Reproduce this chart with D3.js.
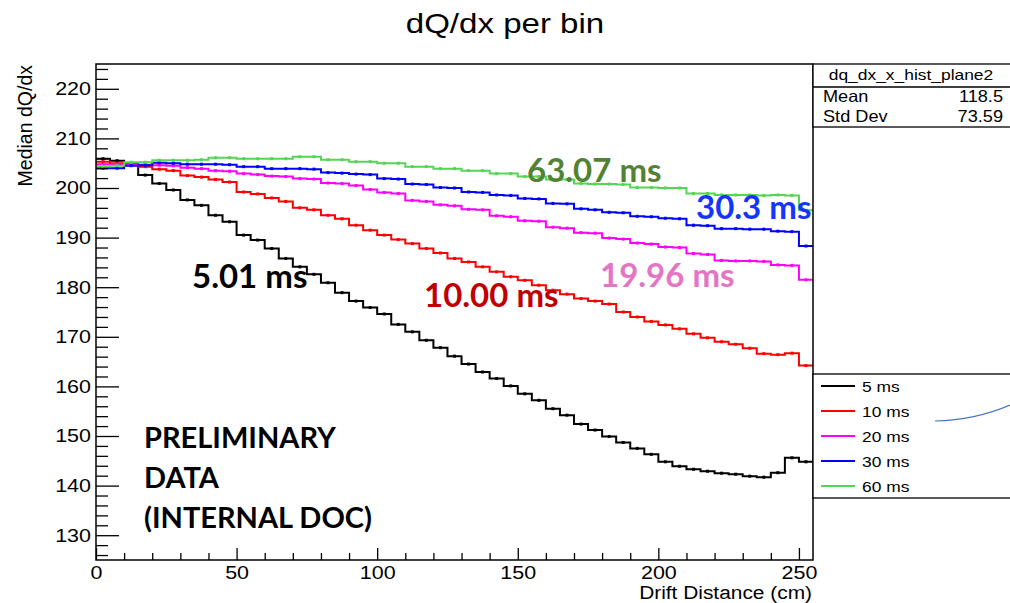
<!DOCTYPE html>
<html><head><meta charset="utf-8">
<script src="https://cdn.jsdelivr.net/npm/d3@7"></script>
<style>body{margin:0;background:#fff;} svg{display:block;}</style>
</head><body>
<svg id="c" width="1010" height="603"></svg>
<script>
// ---- data ----
const binWidth = 5;
const xDomain = [0, 255];
const yDomain = [125, 225];
const seriesNames = ["5 ms", "10 ms", "20 ms", "30 ms", "60 ms"];
const seriesColors = ["#000000", "#ff0000", "#ff00ff", "#0000ff", "#55d555"];
const v5ms = [205.9,205.5,204.9,202.6,200.9,199.6,197.6,196.5,194.5,193.2,190.5,189.5,187.8,185.8,184.1,182.6,180.9,178.9,177.2,175.9,174.6,172.5,171.0,169.3,167.8,166.1,164.5,162.9,161.6,160.1,158.5,157.2,155.5,154.2,152.4,151.2,149.9,148.7,147.5,146.3,144.8,143.9,143.3,142.9,142.5,142.3,141.9,141.7,142.6,145.6,144.8];
const v10ms = [205.3,205.0,204.6,204.3,203.8,203.5,202.5,202.2,201.7,201.2,199.2,198.8,198.0,197.3,196.0,195.6,194.5,193.8,192.5,191.5,190.5,189.6,188.8,187.8,186.9,185.8,185.1,184.1,183.1,182.1,181.4,180.4,179.4,178.6,177.7,177.2,176.6,175.0,174.0,173.1,172.4,171.6,170.6,169.8,169.0,168.5,167.7,166.6,166.4,166.7,164.2];
const v20ms = [204.8,204.8,204.8,204.7,204.6,204.5,204.1,203.9,203.5,203.4,202.9,202.7,202.4,202.3,201.9,201.8,201.0,200.9,200.5,199.7,199.1,198.9,197.5,197.3,196.6,196.4,195.7,195.6,194.4,194.2,193.4,193.3,192.1,191.9,191.0,190.9,189.9,189.7,188.9,188.7,188.1,188.0,186.8,186.6,185.4,185.3,185.3,185.2,184.5,184.4,181.5];
const v30ms = [204.0,204.0,204.5,204.6,205.1,205.0,204.8,204.8,204.8,204.7,204.3,204.3,203.9,203.9,203.9,203.8,203.1,203.0,202.8,202.7,201.9,201.8,200.8,200.7,200.1,200.0,199.2,199.1,198.6,198.5,197.9,197.8,196.9,196.8,195.8,195.6,195.1,195.0,194.3,194.2,193.9,193.8,192.5,192.4,191.8,191.8,191.7,191.7,191.3,191.2,188.3];
const v60ms = [204.4,204.5,205.2,205.2,205.6,205.6,205.6,205.7,206.1,206.1,205.9,205.9,205.9,205.9,206.3,206.3,205.7,205.7,205.3,205.3,205.0,205.0,204.3,204.3,203.9,203.9,203.5,203.5,202.9,202.9,202.3,202.3,201.7,201.7,200.9,200.8,200.8,200.7,200.1,200.1,200.0,200.0,198.9,198.9,198.6,198.6,198.6,198.5,198.6,198.5,195.5];
const seriesValues = [v5ms, v10ms, v20ms, v30ms, v60ms];
const xMajorTicks = [0, 50, 100, 150, 200, 250];
const yMajorTicks = [130, 140, 150, 160, 170, 180, 190, 200, 210, 220];
const annotations = [
  {text: "63.07 ms", color: "#548235"},
  {text: "30.3 ms", color: "#1434ff"},
  {text: "19.96 ms", color: "#e474c4"},
  {text: "10.00 ms", color: "#c00000"},
  {text: "5.01 ms", color: "#000000"}
];
const prelimLines = ["PRELIMINARY", "DATA", "(INTERNAL DOC)"];
const statTitle = "dq_dx_x_hist_plane2";
const statRows = [["Mean", "118.5"], ["Std Dev", "73.59"]];

// ---- layout ----
const svg = d3.select("#c");
const L = 96, R = 813, T = 64, B = 560;
const x = d3.scaleLinear().domain(xDomain).range([L, R]);
const y = d3.scaleLinear().domain(yDomain).range([B, T]);
const SANS = "'Liberation Sans', Arial, Helvetica, sans-serif";
const STRETCH = 1.16;
function stretch(sel, f) {
  sel.each(function () {
    const len = this.getComputedTextLength();
    this.setAttribute("textLength", len * f);
    this.setAttribute("lengthAdjust", "spacingAndGlyphs");
  });
}

// title
svg.append("text").attr("x", 505).attr("y", 33).attr("text-anchor", "middle")
  .style("font-family", SANS).style("font-size", "28.5px").text("dQ/dx per bin")
  .call(stretch, STRETCH);

// series (steps)
const g = svg.append("g");
const line = d3.line().x(d => x(d[0])).y(d => y(d[1])).curve(d3.curveStepAfter);
[0, 1, 2, 3, 4].forEach(i => {
  const vals = seriesValues[i];
  const pts = vals.map((v, k) => [k * binWidth, v]);
  pts.push([vals.length * binWidth, vals[vals.length - 1]]);
  g.append("path").attr("d", line(pts)).attr("fill", "none")
    .attr("stroke", seriesColors[i]).attr("stroke-width", 2);
  g.selectAll(null).data(vals).enter().append("rect")
    .attr("x", (v, k) => x(k * binWidth + binWidth / 2) - 1.5)
    .attr("y", v => y(v) - 1.5).attr("width", 3).attr("height", 3)
    .attr("fill", seriesColors[i]);
});

// axes
const yAxis = d3.axisLeft(y).tickValues(yMajorTicks).tickSizeInner(-23).tickSizeOuter(0).tickPadding(5);
const yMinor = d3.axisLeft(y).tickValues(d3.range(126, 225, 2).filter(v => v % 10 !== 0))
  .tickSizeInner(-12).tickSizeOuter(0).tickFormat("");
const xAxis = d3.axisBottom(x).tickValues(xMajorTicks).tickSizeInner(-12).tickSizeOuter(0).tickPadding(6);
const xMinor = d3.axisBottom(x).tickValues(d3.range(10, 255, 10).filter(v => v % 50 !== 0))
  .tickSizeInner(-7).tickSizeOuter(0).tickFormat("");
function styleAxis(sel) {
  sel.select(".domain").remove();
  sel.selectAll("line").attr("stroke", "#000").attr("stroke-width", 1.3);
  sel.selectAll("text").style("font-family", SANS).style("font-size", "18.5px").attr("fill", "#000");
}
svg.append("g").attr("transform", `translate(${L},0)`).call(yAxis).call(styleAxis)
  .selectAll("text").call(stretch, STRETCH);
svg.append("g").attr("transform", `translate(${L},0)`).call(yMinor).call(styleAxis);
svg.append("g").attr("transform", `translate(0,${B})`).call(xAxis).call(styleAxis)
  .selectAll("text").call(stretch, STRETCH);
svg.append("g").attr("transform", `translate(0,${B})`).call(xMinor).call(styleAxis);

// frame
svg.append("rect").attr("x", L).attr("y", T).attr("width", R - L).attr("height", B - T)
  .attr("fill", "none").attr("stroke", "#000").attr("stroke-width", 1.5);

// axis titles
svg.append("text").attr("x", R - 1).attr("y", 599).attr("text-anchor", "end")
  .style("font-family", SANS).style("font-size", "18px").text("Drift Distance (cm)")
  .call(stretch, STRETCH);
svg.append("text").attr("transform", `translate(32,${T + 1}) rotate(-90)`).attr("text-anchor", "end")
  .style("font-family", SANS).style("font-size", "19.5px").text("Median dQ/dx");

// annotations
const LABELF = "Lato, 'Open Sans', sans-serif";
const annPos = [[527, 182], [696, 219], [600, 287], [424, 307], [192, 288]];
annotations.forEach((a, i) => {
  svg.append("text").attr("x", annPos[i][0]).attr("y", annPos[i][1])
    .style("font-family", LABELF).style("font-weight", 700).style("font-size", "33px")
    .attr("fill", a.color).text(a.text);
});
prelimLines.forEach((t, i) => {
  svg.append("text").attr("x", 144).attr("y", 448 + i * 40)
    .style("font-family", LABELF).style("font-weight", 700).style("font-size", "29px")
    .attr("fill", "#000").text(t);
});

// stats box
const sb = svg.append("g");
sb.append("rect").attr("x", R).attr("y", T).attr("width", 1010 - R + 2).attr("height", 127 - T)
  .attr("fill", "#fff").attr("stroke", "#000").attr("stroke-width", 1.3);
sb.append("line").attr("x1", R).attr("x2", 1010).attr("y1", 87).attr("y2", 87).attr("stroke", "#000").attr("stroke-width", 1.3);
sb.append("text").attr("x", 911).attr("y", 80).attr("text-anchor", "middle")
  .style("font-family", SANS).style("font-size", "15px").text(statTitle).call(stretch, STRETCH);
statRows.forEach((r, i) => {
  sb.append("text").attr("x", 823).attr("y", 102 + i * 20)
    .style("font-family", SANS).style("font-size", "16.5px").text(r[0]).call(stretch, 1.1);
  sb.append("text").attr("x", 1003).attr("y", 102 + i * 20).attr("text-anchor", "end")
    .style("font-family", SANS).style("font-size", "16.5px").text(r[1]).call(stretch, 1.1);
});

// legend
const lg = svg.append("g");
lg.append("rect").attr("x", R).attr("y", 374).attr("width", 1010 - R + 2).attr("height", 124)
  .attr("fill", "#fff").attr("stroke", "#000").attr("stroke-width", 1.3);
seriesNames.forEach((n, i) => {
  const cy = 386 + i * 25;
  lg.append("line").attr("x1", 821).attr("x2", 855).attr("y1", cy).attr("y2", cy)
    .attr("stroke", seriesColors[i]).attr("stroke-width", 2);
  lg.append("text").attr("x", 862).attr("y", cy + 5.5)
    .style("font-family", SANS).style("font-size", "15px").text(n).call(stretch, STRETCH);
});
lg.append("path").attr("d", "M935,421 Q975,420 1010,405").attr("fill", "none")
  .attr("stroke", "#4472c4").attr("stroke-width", 1.2);
</script>
</body></html>
